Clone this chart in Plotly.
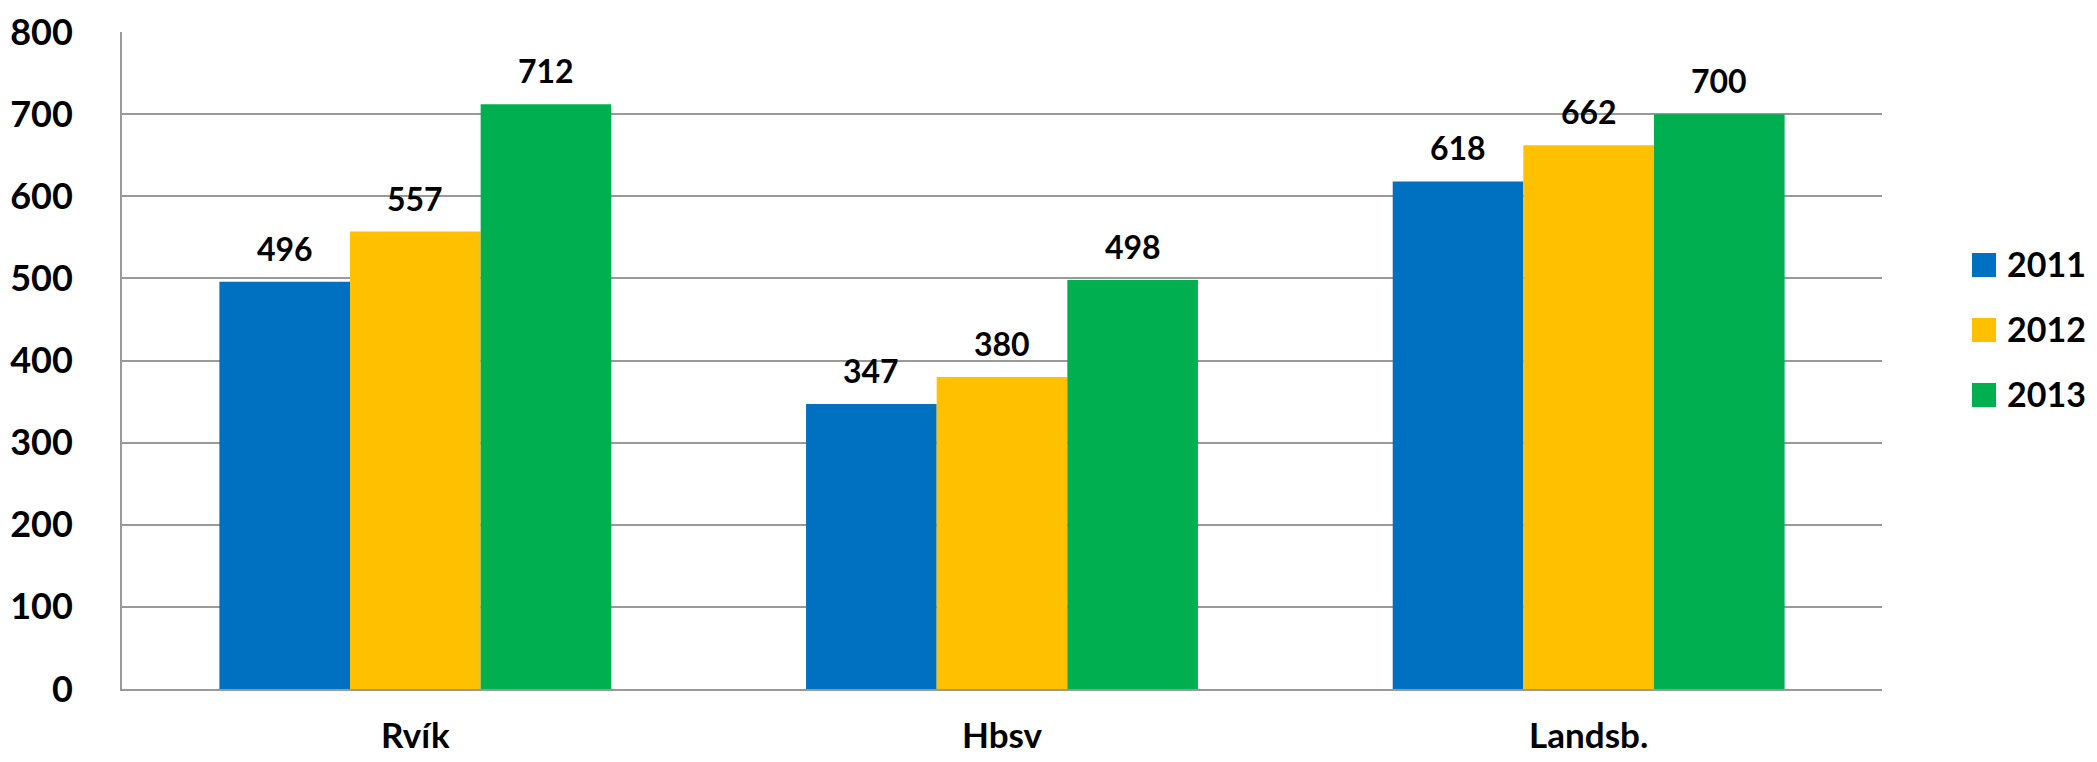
import plotly.graph_objects as go

categories = ["Rvík", "Hbsv", "Landsb."]
series_names = ["2011", "2012", "2013"]
values_2011 = [496, 347, 618]
values_2012 = [557, 380, 662]
values_2013 = [712, 498, 700]
series_values = [values_2011, values_2012, values_2013]
colors = ["#0070C0", "#FFC000", "#00B050"]
y_ticks = [0, 100, 200, 300, 400, 500, 600, 700, 800]

OFF = 8  # default page body margin
W, H = 2097 - OFF, 762 - OFF
ML, MT = 122 - OFF, 32 - OFF
PR, PB = 1882 - OFF, 689 - OFF
MR, MB = W - PR, H - PB
PW, PH = PR - ML, PB - MT
BARGAP = 0.332
FONT = "Lato, 'Open Sans', 'Liberation Sans', sans-serif"

fig = go.Figure()
x_idx = list(range(len(categories)))
for name, vals, col in zip(series_names, series_values, colors):
    fig.add_trace(go.Bar(
        name=name, x=x_idx, y=vals, marker=dict(color=col, line=dict(width=0)),
        showlegend=False, hoverinfo="x+y+name",
    ))

annotations = []
n = len(series_names)
bw = (1 - BARGAP) / n
for j, vals in enumerate(series_values):
    for i, v in enumerate(vals):
        annotations.append(dict(
            x=i + (j - (n - 1) / 2) * bw, y=v, xref="x", yref="y",
            text=str(v), showarrow=False, yanchor="bottom", xanchor="center",
            yshift=12, font=dict(family=FONT, size=32, color="black", weight="bold"),
        ))

# custom legend (larger squares than plotly's built-in legend)
shapes = []
leg_y_px = [265 - OFF, 330 - OFF, 395 - OFF]
sq = 24
sq_x0 = 1972 - OFF
for k, (name, col) in enumerate(zip(series_names, colors)):
    yc = (PB - leg_y_px[k]) / PH
    shapes.append(dict(
        type="rect", xref="paper", yref="paper",
        x0=(sq_x0 - ML) / PW, x1=(sq_x0 + sq - ML) / PW,
        y0=yc - sq / 2 / PH, y1=yc + sq / 2 / PH,
        fillcolor=col, line=dict(width=0),
    ))
    annotations.append(dict(
        x=(sq_x0 + 33 - ML) / PW, y=yc, xref="paper", yref="paper",
        text=name, showarrow=False, xanchor="left", yanchor="middle",
        yshift=2, font=dict(family=FONT, size=34, color="black", weight="bold"),
    ))

fig.update_layout(
    template="none",
    width=W, height=H,
    margin=dict(l=ML, r=MR, t=MT, b=MB, pad=0),
    paper_bgcolor="white", plot_bgcolor="white",
    barmode="group", bargap=BARGAP, bargroupgap=0,
    font=dict(family=FONT, color="black"),
    annotations=annotations, shapes=shapes,
    showlegend=False,
    xaxis=dict(
        tickmode="array", tickvals=x_idx, ticktext=categories,
        range=[-0.5, len(categories) - 0.5], automargin=False,
        showline=True, linecolor="#999999", linewidth=2,
        showgrid=False, ticks="", ticklabelstandoff=15,
        tickfont=dict(family=FONT, size=35, color="black", weight="bold"),
    ),
    yaxis=dict(
        range=[0, 800], tickvals=y_ticks, automargin=False,
        showline=True, linecolor="#999999", linewidth=2,
        showgrid=True, gridcolor="#999999", gridwidth=1.5,
        zeroline=False, ticks="", ticklabelstandoff=40,
        tickfont=dict(family=FONT, size=36, color="black", weight="bold"),
    ),
)

fig.write_html("out.html")
